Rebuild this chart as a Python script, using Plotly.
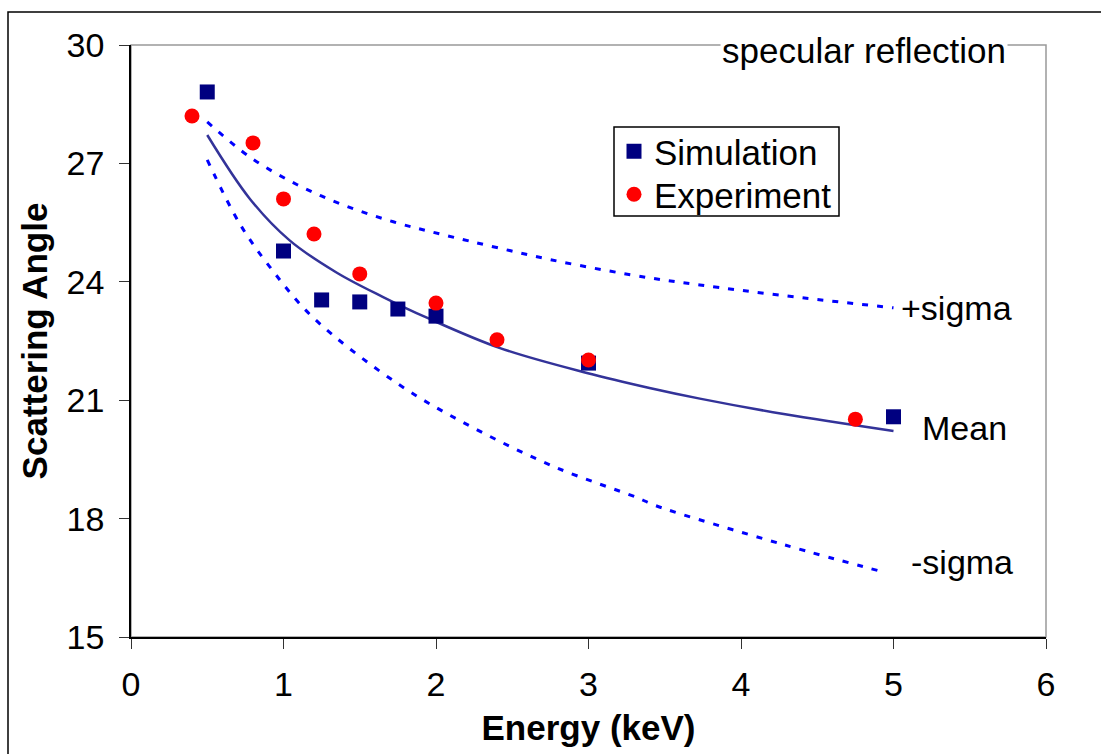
import plotly.graph_objects as go

# ---- data ----
sim_x = [0.5, 1.0, 1.25, 1.5, 1.75, 2.0, 3.0, 5.0]
sim_y = [28.81, 24.78, 23.54, 23.49, 23.31, 23.13, 21.94, 20.58]

exp_x = [0.4, 0.8, 1.0, 1.2, 1.5, 2.0, 2.4, 3.0, 4.75]
exp_y = [28.20, 27.52, 26.10, 25.21, 24.20, 23.46, 22.53, 22.02, 20.52]

mean_x = [0.5, 0.78, 1.04, 1.35, 1.65, 1.94, 2.42, 2.99, 3.40, 3.73, 4.28, 5.0]
mean_y = [27.72, 26.10, 25.05, 24.23, 23.62, 23.09, 22.32, 21.69, 21.31, 21.04, 20.65, 20.22]

up_x = [0.5, 0.78, 1.09, 1.39, 1.72, 2.05, 2.79, 3.40, 3.73, 4.28, 5.0]
up_y = [28.05, 27.16, 26.46, 25.95, 25.52, 25.19, 24.53, 24.10, 23.92, 23.65, 23.34]

lo_x = [0.5, 0.71, 0.91, 1.19, 1.76, 2.27, 2.79, 3.32, 3.44, 4.28, 4.95]
lo_y = [27.09, 25.49, 24.38, 23.11, 21.39, 20.25, 19.29, 18.53, 18.33, 17.34, 16.63]

x_ticks = [0, 1, 2, 3, 4, 5, 6]
y_ticks = [15, 18, 21, 24, 27, 30]

FONT = "Liberation Sans, Arial, sans-serif"

fig = go.Figure()
fig.add_trace(go.Scatter(x=up_x, y=up_y, mode="lines", showlegend=False,
                         line=dict(color="#0000FF", width=3, dash="6px,9px", shape="spline")))
fig.add_trace(go.Scatter(x=lo_x, y=lo_y, mode="lines", showlegend=False,
                         line=dict(color="#0000FF", width=3, dash="6px,9px", shape="spline")))
fig.add_trace(go.Scatter(x=mean_x, y=mean_y, mode="lines", showlegend=False,
                         line=dict(color="#333399", width=2.5, shape="spline")))
fig.add_trace(go.Scatter(x=sim_x, y=sim_y, mode="markers", name="Simulation",
                         legend="legend",
                         marker=dict(symbol="square", size=15, color="#000080")))
fig.add_trace(go.Scatter(x=exp_x, y=exp_y, mode="markers", name="Experiment",
                         legend="legend2",
                         marker=dict(symbol="circle", size=15, color="#FF0000")))

L, R, T, B = 131, 55, 45, 117
W, H = 1101, 754
pw, ph = W - L - R, H - T - B

def px(xp):
    return (xp - L) / pw

def py(yp):
    return (H - B - yp) / ph

leg_common = dict(xanchor="left", yanchor="top", bgcolor="rgba(0,0,0,0)",
                  borderwidth=0, font=dict(size=35), itemsizing="trace")

fig.update_layout(
    width=W, height=H,
    margin=dict(l=L, r=R, t=T, b=B, pad=0),
    paper_bgcolor="white", plot_bgcolor="white",
    font=dict(family=FONT, size=34, color="black"),
    xaxis=dict(range=[0, 6], tickvals=x_ticks, ticks="outside", ticklen=10,
               tickcolor="#333", showgrid=False, zeroline=False,
               showline=True, linecolor="black", linewidth=1.5,
               tickfont=dict(size=34), ticklabelstandoff=6,
               title=dict(text="<b>Energy (keV)</b>", font=dict(size=35), standoff=14)),
    yaxis=dict(range=[15, 30], tickvals=y_ticks, ticks="outside", ticklen=10,
               tickcolor="#333", showgrid=False, zeroline=False,
               showline=True, linecolor="black", linewidth=1.5,
               tickfont=dict(size=34), ticklabelstandoff=8,
               title=dict(text="<b>Scattering Angle</b>", font=dict(size=35), standoff=8)),
    legend=dict(x=px(614), y=py(122), **leg_common),
    legend2=dict(x=px(614), y=py(165), **leg_common),
    shapes=[
        dict(type="rect", xref="paper", yref="paper", x0=0, x1=1, y0=0, y1=1,
             line=dict(color="#999999", width=1.5), layer="below"),
        dict(type="rect", xref="paper", yref="paper",
             x0=px(8), x1=px(1115), y0=py(770), y1=py(12),
             line=dict(color="black", width=1.5), layer="below"),
        dict(type="rect", xref="paper", yref="paper",
             x0=px(614), x1=px(839), y0=py(216), y1=py(127),
             line=dict(color="black", width=1.5), fillcolor="white", layer="below"),
    ],
    annotations=[
        dict(text="specular reflection", xref="paper", yref="paper",
             x=px(864), y=py(50), xanchor="center", yanchor="middle",
             showarrow=False, bgcolor="white", font=dict(size=35)),
        dict(text="+sigma", xref="x", yref="y", x=5.416, y=23.34,
             xanchor="center", yanchor="middle", showarrow=False, font=dict(size=34)),
        dict(text="Mean", xref="x", yref="y", x=5.466, y=20.30,
             xanchor="center", yanchor="middle", showarrow=False, font=dict(size=34)),
        dict(text="-sigma", xref="x", yref="y", x=5.446, y=16.89,
             xanchor="center", yanchor="middle", showarrow=False, font=dict(size=34)),
    ],
)

fig.write_html("out.html")
